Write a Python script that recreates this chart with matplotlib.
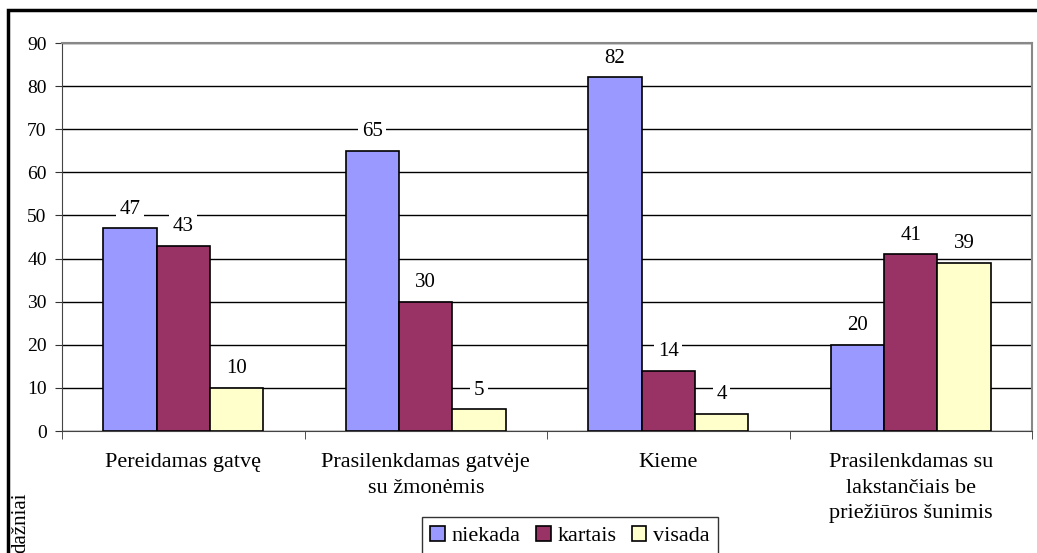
import numpy as np
import matplotlib.pyplot as plt
from matplotlib.patches import Rectangle

# Duomenys
kategorijos = ["Pereidamas gatvę", "Prasilenkdamas gatvėje\nsu žmonėmis",
               "Kieme", "Prasilenkdamas su\nlakstančiais be\npriežiūros šunimis"]
niekada = [47, 65, 82, 20]
kartais = [43, 30, 14, 41]
visada = [10, 5, 4, 39]
serijos = ["niekada", "kartais", "visada"]
spalvos = ["#9999FF", "#993366", "#FFFFCC"]

plt.rcParams['font.family'] = ['Liberation Serif', 'DejaVu Serif']

fig = plt.figure(figsize=(10.37, 5.53), dpi=100)
ax = fig.add_axes([62 / 1037, 1 - 431 / 553, (1032 - 62) / 1037, (431 - 43) / 553])

x = np.arange(len(kategorijos))
plotis = 0.22
for i, (vardas, reiksmes) in enumerate(zip(serijos, [niekada, kartais, visada])):
    poz = x + (i - 1) * plotis
    ax.bar(poz, reiksmes, width=plotis, color=spalvos[i], edgecolor="black",
           linewidth=1.2, label=vardas, zorder=3)
    for px, v in zip(poz, reiksmes):
        ax.annotate(str(v), (px, v), xytext=(0, 7), textcoords="offset points",
                    ha="center", va="bottom", fontsize=15, zorder=4,
                    bbox=dict(facecolor="white", edgecolor="none", pad=2.5))

ax.set_xlim(-0.5, len(kategorijos) - 0.5)
ax.set_ylim(0, 90)
ax.set_yticks(range(0, 91, 10))
ax.yaxis.grid(True, color="black", linewidth=1)
ax.set_axisbelow(True)

ax.set_xticks(x)
ax.set_xticklabels(kategorijos, fontsize=16, linespacing=1.45)
ax.tick_params(axis="x", length=0, pad=16)
ax.set_xticks(np.arange(-0.5, len(kategorijos)), minor=True)
ax.tick_params(axis="x", which="minor", length=6, direction="out", color="#333333")
ax.tick_params(axis="y", length=5, labelsize=14, color="#333333", pad=6)

for s in ["top", "right"]:
    ax.spines[s].set_color("#888888")
    ax.spines[s].set_linewidth(1.5)
ax.spines["left"].set_color("#444444")
ax.spines["bottom"].set_color("#444444")

fig.text(0.011, 0.0, "dažniai", rotation=90, ha="left", va="bottom", fontsize=15)

leg = fig.legend(loc="upper center", bbox_to_anchor=(570 / 1037, 1 - 517 / 553), ncol=3,
                 fontsize=16, frameon=True, fancybox=False, edgecolor="black",
                 handlelength=0.65, handleheight=0.65, handletextpad=0.3,
                 columnspacing=0.7, borderpad=0.4, borderaxespad=0)
leg.get_frame().set_linewidth(1)

# Rėmelis aplink diagramą
fig.patches.append(Rectangle((8 / 1037, -0.1), 1.2, 1 - 10 / 553 + 0.1,
                             transform=fig.transFigure, fill=False,
                             edgecolor="black", linewidth=2.5))

fig.savefig("out.png", dpi=100)
